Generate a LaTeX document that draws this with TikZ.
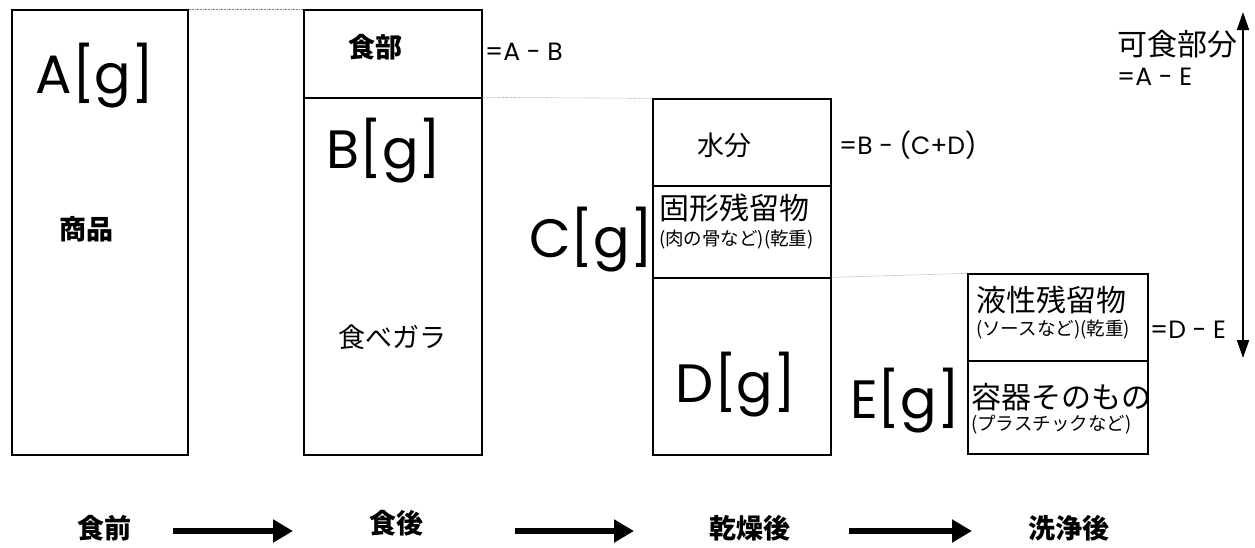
\documentclass[tikz,border=0pt]{standalone}
\usepackage{fontspec}
\setmainfont{Poppins}
\newfontfamily\jp{Noto Sans CJK JP}
\usetikzlibrary{arrows.meta}

\tikzset{
  part/.style={draw, line width=1.3pt, inner sep=0pt},
  mass/.style={font=\fontsize{54}{58}\selectfont, anchor=base, inner sep=0pt},
  eq/.style={font=\fontsize{25}{28}\selectfont, inner sep=0pt},
  jlab/.style={font=\jp\fontsize{27}{30}\selectfont, inner sep=0pt},
  jbig/.style={font=\jp\fontsize{30}{34}\selectfont, inner sep=0pt},
  jsmall/.style={font=\jp\fontsize{18.5}{20}\selectfont, inner sep=0pt},
  stage/.style={font=\jp\bfseries\fontsize{27}{30}\selectfont, inner sep=0pt},
  guide/.style={gray, densely dotted, line width=0.6pt},
  flow/.style={line width=6pt, -{Triangle[length=20pt,width=22pt]}},
  span/.style={line width=1.8pt, {Triangle[length=18pt,width=12pt]}-{Triangle[length=18pt,width=12pt]}},
}

\begin{document}
\begin{tikzpicture}[x=1pt,y=-1pt]
\useasboundingbox (0,0) rectangle (1255,547);

% columns
\node[part, minimum width=176pt, minimum height=445pt] (goods)  at (100,232.5) {};
\node[part, minimum width=178pt, minimum height=88pt]  (edible) at (393,54) {};
\node[part, minimum width=178pt, minimum height=357pt] (waste)  at (393,276.5) {};
\node[part, minimum width=178pt, minimum height=87pt]  (water)  at (742,142.5) {};
\node[part, minimum width=178pt, minimum height=92pt]  (solid)  at (742,232) {};
\node[part, minimum width=178pt, minimum height=177pt] (dry)    at (742,366.5) {};
\node[part, minimum width=180pt, minimum height=87pt]  (liquid) at (1058,317.5) {};
\node[part, minimum width=180pt, minimum height=93pt]  (pack)   at (1058,407.5) {};

\draw[guide] (goods.north east) -- (edible.north west);
\draw[guide] (waste.north east) -- (water.north west);
\draw[guide] (dry.north east) -- (liquid.north west);

% masses
\node[mass] (mA) at (95,93)   {A[g]};
\node[mass] (mB) at (384,168) {B[g]};
\node[mass] (mC) at (591,257) {C[g]};
\node[mass] (mD) at (736,402) {D[g]};
\node[mass] (mE) at (905,418) {E[g]};

% contents
\node[jlab, font=\jp\bfseries\fontsize{27}{30}\selectfont] (tgoods) at (86,229) {商品};
\node[jlab, font=\jp\bfseries\fontsize{27}{30}\selectfont] (tedible) at (375,47) {食部};
\node[jlab] (twaste) at (392,337) {食べガラ};
\node[jlab] (twater) at (724,145) {水分};
\node[jbig, anchor=west] (tsolid) at (659,208) {固形残留物};
\node[jsmall, anchor=west] (tsolid2) at (659,240) {(肉の骨など)(乾重)};
\node[jbig, anchor=west] (tliquid) at (976,300) {液性残留物};
\node[jsmall, anchor=west] (tliquid2) at (976,330) {(ソースなど)(乾重)};
\node[jbig, anchor=west] (tpack) at (971,397) {容器そのもの};
\node[jsmall, anchor=west] (tpack2) at (971,425) {(プラスチックなど)};

% differences
\node[eq, anchor=west] (dAB) at (485,52)  {=A - B};
\node[eq, anchor=west] (dBC) at (839,145) {=B - (C+D)};
\node[eq, anchor=west] (dDE) at (1150,330) {=D - E};
\node[jbig, anchor=west] (tpart) at (1117,44) {可食部分};
\node[eq, anchor=west] (dAE) at (1117,77) {=A - E};

\coordinate (stop) at (1243,12);
\coordinate (sbot) at (1243,358);
\draw[span] (stop) -- (sbot);

% stages
\node[stage] (before) at (104,528) {食前};
\node[stage] (after)  at (396,523) {食後};
\node[stage] (dried)  at (750,528) {乾燥後};
\node[stage] (washed) at (1069,528) {洗浄後};

\coordinate (f1) at (173,531); \coordinate (f2) at (293,531);
\coordinate (f3) at (515,531); \coordinate (f4) at (634,531);
\coordinate (f5) at (849,531); \coordinate (f6) at (972,531);
\draw[flow] (f1) -- (f2);
\draw[flow] (f3) -- (f4);
\draw[flow] (f5) -- (f6);
\end{tikzpicture}
\end{document}
